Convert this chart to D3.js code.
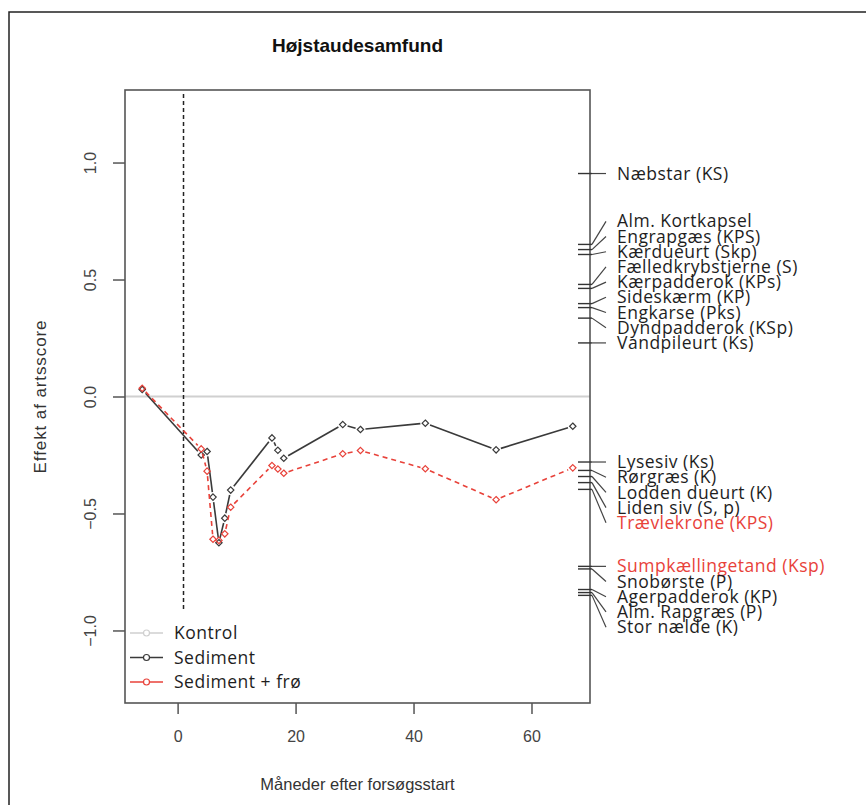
<!DOCTYPE html>
<html>
<head>
<meta charset="utf-8">
<script src="https://cdn.jsdelivr.net/npm/d3@7"></script>
<style>
  body { margin: 0; background: #fff; }
  svg text { font-family: Arial, "Liberation Sans", sans-serif; }
  .lbl { font-family: "Open Sans", Lato, sans-serif; letter-spacing: 0.5px; }
</style>
</head>
<body>
<svg id="chart" width="866" height="805"></svg>
<script>
// time points (months after start) and effect on species score
const months = [-6, 4, 5, 6, 7, 8, 9, 16, 17, 18, 28, 31, 42, 54, 67];
const sediment = [0.03, -0.25, -0.235, -0.43, -0.625, -0.52, -0.40, -0.177, -0.23, -0.264, -0.12, -0.141, -0.114, -0.228, -0.127];
const sedimentFro = [0.035, -0.224, -0.319, -0.61, -0.615, -0.587, -0.473, -0.295, -0.31, -0.328, -0.245, -0.231, -0.309, -0.441, -0.305];
const kontrolLevel = 0;
const startMonth = 1;

// species scores on the right axis
const species = [
  "Næbstar (KS)", "Alm. Kortkapsel", "Engrapgæs (KPS)", "Kærdueurt (Skp)",
  "Fælledkrybstjerne (S)", "Kærpadderok (KPs)", "Sideskærm (KP)", "Engkarse (Pks)",
  "Dyndpadderok (KSp)", "Vandpileurt (Ks)",
  "Lysesiv (Ks)", "Rørgræs (K)", "Lodden dueurt (K)", "Liden siv (S, p)", "Trævlekrone (KPS)",
  "Sumpkællingetand (Ksp)", "Snobørste (P)", "Agerpadderok (KP)", "Alm. Rapgræs (P)", "Stor nælde (K)"
];
const speciesScore = [
  0.953, 0.65, 0.628, 0.607,
  0.479, 0.462, 0.397, 0.38,
  0.335, 0.229,
  -0.28, -0.316, -0.342, -0.368, -0.397,
  -0.726, -0.737, -0.825, -0.838, -0.85
];
const redSpecies = ["Trævlekrone (KPS)", "Sumpkællingetand (Ksp)"];

const xTicks = [0, 20, 40, 60];
const yTicks = [-1.0, -0.5, 0.0, 0.5, 1.0];

const svg = d3.select("#chart");
const plot = { left: 125, right: 590, top: 90, bottom: 703 };

const x = d3.scaleLinear().domain([-8.92, 69.92]).range([plot.left, plot.right]);
const y = d3.scaleLinear().domain([-1.31, 1.31]).range([plot.bottom, plot.top]);

// outer frame
svg.append("rect")
  .attr("x", 9).attr("y", 12)
  .attr("width", 900).attr("height", 900)
  .attr("fill", "none").attr("stroke", "#222").attr("stroke-width", 1.5);

// title
svg.append("text")
  .attr("x", (plot.left + plot.right) / 2)
  .attr("y", 52)
  .attr("text-anchor", "middle")
  .style("font-weight", "bold")
  .style("font-size", "19px")
  .attr("fill", "#111")
  .text("Højstaudesamfund");

// reference lines
svg.append("line")
  .attr("x1", plot.left).attr("x2", plot.right)
  .attr("y1", y(kontrolLevel)).attr("y2", y(kontrolLevel))
  .attr("stroke", "#d0d0d0").attr("stroke-width", 2);

svg.append("line")
  .attr("x1", x(startMonth)).attr("x2", x(startMonth))
  .attr("y1", plot.top + 4).attr("y2", plot.bottom)
  .attr("stroke", "#222").attr("stroke-width", 1.5)
  .attr("stroke-dasharray", "4,3");

// series lines, R type="b" style (gaps around the points)
function drawSeries(values, color, dash) {
  const pts = months.map((m, i) => [x(m), y(values[i])]);
  const gap = 5;
  const g = svg.append("g");
  for (let i = 0; i < pts.length - 1; i++) {
    const [x1, y1] = pts[i], [x2, y2] = pts[i + 1];
    const len = Math.hypot(x2 - x1, y2 - y1);
    if (len <= 2 * gap) continue;
    const ux = (x2 - x1) / len, uy = (y2 - y1) / len;
    g.append("line")
      .attr("x1", x1 + ux * gap).attr("y1", y1 + uy * gap)
      .attr("x2", x2 - ux * gap).attr("y2", y2 - uy * gap)
      .attr("stroke", color).attr("stroke-width", 1.6)
      .attr("stroke-dasharray", dash);
  }
  g.selectAll("path")
    .data(pts)
    .enter().append("path")
    .attr("transform", d => `translate(${d[0]},${d[1]})`)
    .attr("d", d3.symbol(d3.symbolDiamond2, 26))
    .attr("fill", "none")
    .attr("stroke", color)
    .attr("stroke-width", 1.2);
}
drawSeries(sediment, "#3a3a3a", null);
drawSeries(sedimentFro, "#e8423a", "5,4");

// box
svg.append("rect")
  .attr("x", plot.left).attr("y", plot.top)
  .attr("width", plot.right - plot.left).attr("height", plot.bottom - plot.top)
  .attr("fill", "none").attr("stroke", "#555").attr("stroke-width", 1.6);

// X axis
const xAxis = svg.append("g")
  .attr("transform", `translate(0,${plot.bottom})`)
  .call(d3.axisBottom(x).tickValues(xTicks).tickSize(11).tickPadding(17).tickFormat(d3.format("d")));
xAxis.select(".domain").remove();
xAxis.selectAll("line").attr("stroke", "#555").attr("stroke-width", 1.5);
xAxis.selectAll("text").attr("fill", "#444").style("font-size", "16px");

// Y axis
const yAxis = svg.append("g")
  .attr("transform", `translate(${plot.left},0)`)
  .call(d3.axisLeft(y).tickValues(yTicks).tickSize(12).tickFormat(d3.format(".1f")));
yAxis.select(".domain").remove();
yAxis.selectAll("line").attr("stroke", "#555").attr("stroke-width", 1.5);
yAxis.selectAll("text")
  .attr("x", 0).attr("y", 0).attr("dy", null)
  .attr("text-anchor", "middle")
  .attr("transform", "translate(-29,0) rotate(-90)")
  .attr("fill", "#444").style("font-size", "16px");

// axis titles
svg.append("text")
  .attr("x", (plot.left + plot.right) / 2)
  .attr("y", 790)
  .attr("text-anchor", "middle")
  .attr("fill", "#333")
  .style("font-size", "16.5px")
  .text("Måneder efter forsøgsstart");

svg.append("text")
  .attr("transform", `translate(46,${(plot.top + plot.bottom) / 2}) rotate(-90)`)
  .attr("text-anchor", "middle")
  .attr("fill", "#333")
  .style("font-size", "17px")
  .style("letter-spacing", "0.9px")
  .text("Effekt af artsscore");

// species labels: group close scores, stack labels away from zero
const spacing = 15.2;
const items = species.map((name, i) => ({ name, score: speciesScore[i] }))
  .sort((a, b) => b.score - a.score);
const groups = [];
items.forEach((d, i) => {
  if (i === 0 || items[i - 1].score - d.score > 0.2) groups.push([]);
  groups[groups.length - 1].push(d);
});
groups.forEach(grp => {
  const positive = grp[0].score > 0;
  const anchorIdx = positive ? grp.length - 1 : 0;
  const y0 = y(grp[anchorIdx].score);
  grp.forEach((d, i) => { d.ly = y0 + (i - anchorIdx) * spacing; });
});

const tickX0 = plot.right - 12, tickX1 = plot.right + 2, leadX = plot.right + 16;
const labels = svg.append("g");
items.forEach(d => {
  labels.append("line")
    .attr("x1", tickX0).attr("x2", tickX1)
    .attr("y1", y(d.score)).attr("y2", y(d.score))
    .attr("stroke", "#333").attr("stroke-width", 1.4);
  labels.append("line")
    .attr("x1", tickX1).attr("x2", leadX)
    .attr("y1", y(d.score)).attr("y2", d.ly)
    .attr("stroke", "#444").attr("stroke-width", 1.2);
  labels.append("text")
    .attr("class", "lbl")
    .attr("x", leadX + 11)
    .attr("y", d.ly)
    .attr("dy", "0.35em")
    .attr("fill", redSpecies.includes(d.name) ? "#e8423a" : "#1e1e1e")
    .style("font-size", "17.5px")
    .text(d.name);
});

// legend
const legendRows = [
  { name: "Kontrol", color: "#cfcfcf" },
  { name: "Sediment", color: "#3a3a3a" },
  { name: "Sediment + frø", color: "#e8423a" }
];
const legend = svg.append("g");
legend.append("rect")
  .attr("x", plot.left + 1).attr("y", 612)
  .attr("width", 185).attr("height", plot.bottom - 613)
  .attr("fill", "#fff");
legendRows.forEach((r, i) => {
  const ly = 633 + i * 24.5;
  legend.append("line")
    .attr("x1", 130).attr("x2", 163).attr("y1", ly).attr("y2", ly)
    .attr("stroke", r.color).attr("stroke-width", 1.6);
  legend.append("circle")
    .attr("cx", 146.5).attr("cy", ly).attr("r", 3)
    .attr("fill", "#fff").attr("stroke", r.color).attr("stroke-width", 1.2);
  legend.append("text")
    .attr("class", "lbl")
    .attr("x", 174).attr("y", ly).attr("dy", "0.35em")
    .attr("fill", "#1e1e1e")
    .style("font-size", "17.5px")
    .text(r.name);
});
</script>
</body>
</html>
